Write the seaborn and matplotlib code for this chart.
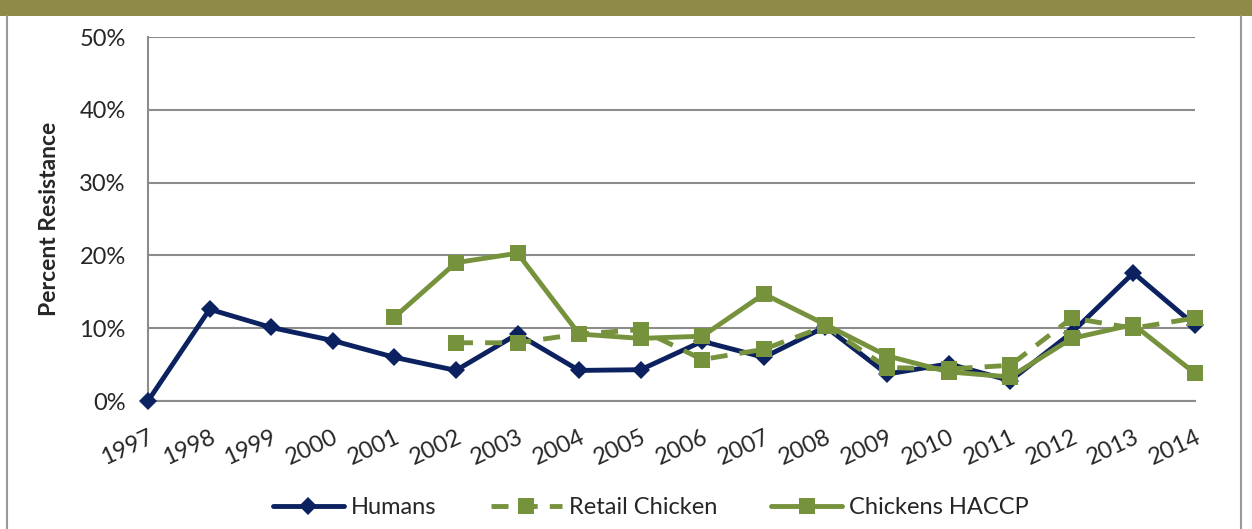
import numpy as np
import pandas as pd
import matplotlib
matplotlib.use('Agg')
import matplotlib.pyplot as plt
import matplotlib.patches as mpatches
from matplotlib.lines import Line2D
import seaborn as sns

# data (percent resistance)
years = list(range(1997, 2015))
humans = [0.0, 12.6, 10.1, 8.3, 6.0, 4.2, 9.2, 4.2, 4.3, 8.2, 6.0, 10.2,
          3.7, 5.1, 2.8, 9.4, 17.6, 10.4]
retail_chicken = [np.nan, np.nan, np.nan, np.nan, np.nan, 8.0, 8.0, 9.2, 9.8, 5.7,
                  7.1, 10.3, 4.6, 4.4, 4.9, 11.4, 10.0, 11.4]
chickens_haccp = [np.nan, np.nan, np.nan, np.nan, 11.5, 19.0, 20.3, 9.2, 8.6, 8.9,
                  14.7, 10.5, 6.2, 4.0, 3.3, 8.6, 10.5, 3.8]
series_names = ['Humans', 'Retail Chicken', 'Chickens HACCP']

df = pd.DataFrame({'Year': years, 'Humans': humans,
                   'Retail Chicken': retail_chicken, 'Chickens HACCP': chickens_haccp})

sns.set_style('white')
plt.rcParams['font.family'] = ['Lato', 'DejaVu Sans']

navy = '#0B2160'
green = '#76923C'
lw = 3.5
dash = (3.5, 2.5)

fig = plt.figure(figsize=(12.52, 5.29), dpi=100)
ax = fig.add_axes([148/1252, 1 - 401/529, (1195 - 148)/1252, (401 - 37)/529])

# header band and frame lines
fig.patches.append(mpatches.Rectangle((0, 1 - 16/529), 1, 16/529, transform=fig.transFigure,
                                      facecolor='#8E8A48', edgecolor='none', zorder=0))
fig.lines.append(Line2D([7/1252, 7/1252], [0, 1 - 16/529], transform=fig.transFigure,
                        color='#9a9a9a', lw=1.5))
fig.lines.append(Line2D([1241/1252, 1241/1252], [0, 1 - 16/529], transform=fig.transFigure,
                        color='#9a9a9a', lw=1.5))

# series
sns.lineplot(data=df, x='Year', y='Humans', ax=ax, color=navy, lw=lw,
             marker='D', markersize=9, markeredgewidth=0, clip_on=False, zorder=3)
sns.lineplot(data=df.dropna(subset=['Retail Chicken']), x='Year', y='Retail Chicken', ax=ax,
             color=green, lw=lw, marker='s', markersize=12, markeredgewidth=0,
             dashes=dash, clip_on=False, zorder=4)
sns.lineplot(data=df.dropna(subset=['Chickens HACCP']), x='Year', y='Chickens HACCP', ax=ax,
             color=green, lw=lw, marker='s', markersize=12, markeredgewidth=0,
             clip_on=False, zorder=5)

ax.set_xlim(1997, 2014)
ax.set_ylim(0, 50)
ax.set_yticks([0, 10, 20, 30, 40, 50])
ax.set_yticklabels([f'{v}%' for v in [0, 10, 20, 30, 40, 50]], fontsize=17)
ax.set_xticks(years)
ax.set_xticklabels([str(y) for y in years], fontsize=17, rotation=25,
                   ha='right', va='top', rotation_mode='anchor')
ax.tick_params(axis='x', length=8, width=1.5, color='#8c8c8c', direction='out', pad=10)
ax.tick_params(axis='y', length=8, width=1.5, color='#8c8c8c', direction='out', pad=8)
ax.yaxis.grid(True, color='#8c8c8c', lw=1.5)
ax.set_axisbelow(True)
for side in ['top', 'right']:
    ax.spines[side].set_visible(False)
for side in ['left', 'bottom']:
    ax.spines[side].set_color('#8c8c8c')
    ax.spines[side].set_linewidth(1.5)
ax.set_xlabel('')
ax.set_ylabel('Percent Resistance', fontsize=16.5, fontweight='bold', labelpad=14)

handles = [
    Line2D([], [], color=navy, lw=lw, marker='D', markersize=9, markeredgewidth=0),
    Line2D([], [], color=green, lw=lw, marker='s', markersize=12, markeredgewidth=0,
           dashes=dash),
    Line2D([], [], color=green, lw=lw, marker='s', markersize=12, markeredgewidth=0),
]
fig.legend(handles, series_names, loc='center', bbox_to_anchor=(0.52, 1 - 508/529),
           ncol=3, frameon=False, fontsize=17, handlelength=3.0, columnspacing=2.3,
           handletextpad=0.3)

fig.savefig('out.png', dpi=100)
